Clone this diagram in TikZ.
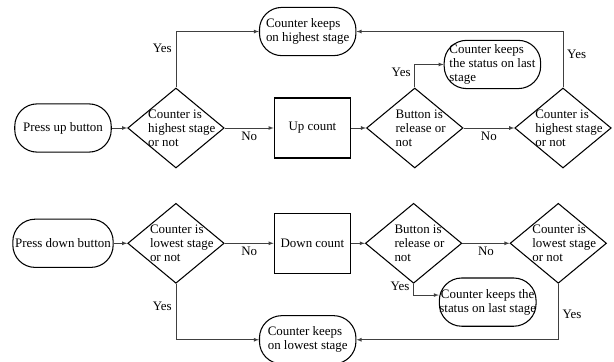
\documentclass[tikz,border=0pt]{standalone}
\usepackage{fontspec}
\setmainfont{Liberation Serif}
\usetikzlibrary{shapes.geometric}
\tikzset{node distance=96pt,
  terminal/.style={draw, line width=0.9pt, rounded corners=19pt, minimum width=82pt, minimum height=41pt, inner sep=2pt, align=left},
  process/.style={draw, line width=0.9pt, minimum width=65pt, minimum height=51pt},
  decision/.style={draw, diamond, line width=0.9pt, minimum width=82pt, minimum height=68pt, inner sep=0pt},
  dtext/.style={align=left, inner sep=0pt, xshift=5pt},
  line/.style={draw=black!75, line width=0.5pt, ->, >=latex}}

\begin{document}
\begin{tikzpicture}[x=0.85pt, y=-0.85pt, font=\fontsize{11}{12}\selectfont]
  \useasboundingbox (0,0) rectangle (614,362);
  % upper row
  \node[terminal] (pressup) at (63,128) {Press up button};
  \node[decision] (ishigh) [right of=pressup] {};
  \node[dtext] (ishightext) at (ishigh) {Counter is\\highest stage\\or not};
  \node[process] (upcount) [right of=ishigh, node distance=116pt] {Up count};
  \node[decision] (relup) [right of=upcount, node distance=87pt] {};
  \node[dtext] (reluptext) at (relup) {Button is\\release or\\not};
  \node[decision] (ishighb) [right of=relup, node distance=126pt] {};
  \node[dtext] (ishighbtext) at (ishighb) {Counter is\\highest stage\\or not};
  \node[terminal] (keephigh) [above of=upcount, node distance=82pt, xshift=-4pt] {Counter keeps\\on highest stage};
  \node[terminal] (keeplastup) [above of=relup, node distance=54pt, xshift=66pt] {Counter keeps\\the status on last\\stage};
  \draw[line] (pressup) -- (ishigh);
  \draw[line] (ishigh) -- node[below] {No} (upcount);
  \draw[line] (upcount) -- (relup);
  \draw[line] (relup) -- node[below] {No} (ishighb);
  \draw[line] (ishigh.north) |- node[pos=0.35, left] {Yes} (keephigh.west);
  \draw[line] (ishighb.north) |- node[pos=0.3, right] {Yes} (keephigh.east);
  \draw[line] (relup.north) |- node[pos=0.33, left] {Yes} (keeplastup.west);
  % lower row
  \node[terminal] (pressdown) [below of=pressup, node distance=98pt] {Press down button};
  \node[decision] (islow) [right of=pressdown] {};
  \node[dtext] (islowtext) at (islow) {Counter is\\lowest stage\\or not};
  \node[process] (downcount) [right of=islow, node distance=116pt] {Down count};
  \node[decision] (reldown) [right of=downcount, node distance=86pt] {};
  \node[dtext] (reldowntext) at (reldown) {Button is\\release or\\not};
  \node[decision] (islowb) [right of=reldown, node distance=123pt] {};
  \node[dtext] (islowbtext) at (islowb) {Counter is\\lowest stage\\or not};
  \node[terminal] (keeplow) [below of=downcount, node distance=82pt, xshift=-4pt] {Counter keeps\\on lowest stage};
  \node[terminal, inner sep=0pt, align=center] (keeplastdown) [below of=reldown, node distance=50pt, xshift=63pt] {Counter keeps the\\status on last stage};
  \draw[line] (pressdown) -- (islow);
  \draw[line] (islow) -- node[below] {No} (downcount);
  \draw[line] (downcount) -- (reldown);
  \draw[line] (reldown) -- node[below] {No} (islowb);
  \draw[line] (islow.south) |- node[pos=0.2, left] {Yes} (keeplow.west);
  \draw[line] (islowb.south) |- node[pos=0.27, right] {Yes} (keeplow.east);
  \draw[line] (reldown.south) |- node[pos=0.1, left] {Yes} ([yshift=6pt]keeplastdown.west);
\end{tikzpicture}
\end{document}
